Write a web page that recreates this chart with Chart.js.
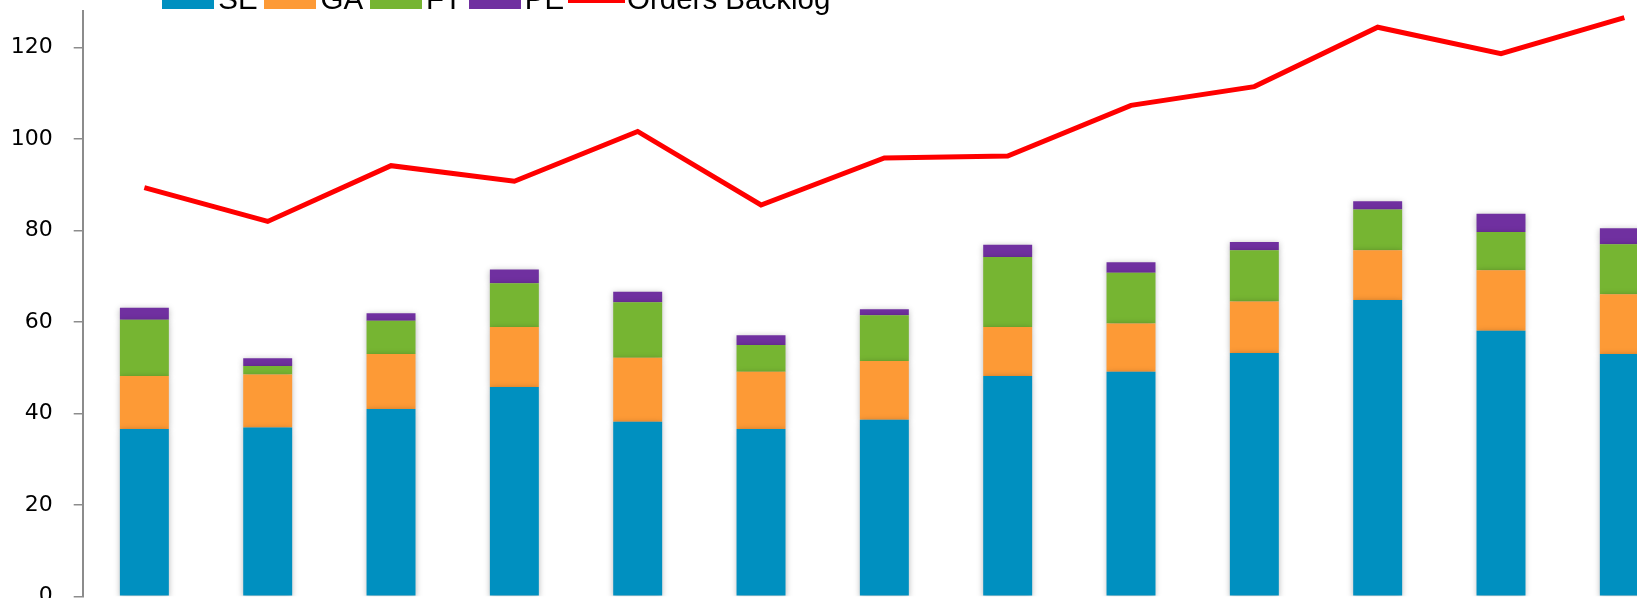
<!DOCTYPE html>
<html>
<head>
<meta charset="utf-8">
<script src="https://cdn.jsdelivr.net/npm/chart.js@4.4.1/dist/chart.umd.min.js"></script>
<style>
  html, body { margin: 0; padding: 0; overflow: hidden; background: #fff; }
  #wrap { position: absolute; left: 0; top: -50px; }
</style>
</head>
<body>
<div id="wrap">
  <canvas id="chart" width="1700" height="700"></canvas>
</div>
<script>
// periods (axis labels fall below the visible area)
const periods = ['1', '2', '3', '4', '5', '6', '7', '8', '9', '10', '11', '12', '13'];

const seValues = [36.6, 36.9, 41.0, 45.8, 38.2, 36.6, 38.6, 48.2, 49.1, 53.2, 64.8, 58.1, 53.0];
const gaValues = [11.6, 11.6, 12.0, 13.1, 14.0, 12.5, 12.9, 10.7, 10.6, 11.3, 10.9, 13.2, 13.1];
const ftValues = [12.3, 1.9, 7.3, 9.6, 12.1, 5.9, 10.0, 15.3, 11.1, 11.2, 8.9, 8.4, 10.9];
const peValues = [2.6, 1.7, 1.6, 3.0, 2.3, 2.1, 1.3, 2.7, 2.3, 1.8, 1.8, 4.0, 3.5];
const backlogValues = [89.4, 82.0, 94.2, 90.8, 101.7, 85.6, 95.9, 96.3, 107.4, 111.5, 124.5, 118.7, 126.6];

const yTickStep = 20;
const yMax = 128.15;

// legend swatches
function swatch(color, w, h) {
  const c = document.createElement('canvas');
  c.width = w;
  c.height = h;
  const g = c.getContext('2d');
  g.fillStyle = color;
  g.fillRect(0, 0, w, h);
  return c;
}

// put the legend where it sits in the picture
const legendPlacer = {
  id: 'legendPlacer',
  afterLayout(chart) {
    const lg = chart.legend;
    const pad = lg.options.labels.padding;
    const h = lg.height;
    lg.left = 172.5 - pad;
    lg.top = 50.5 - pad - lg.options.labels.font.size / 2;
    lg.bottom = lg.top + h;
  }
};

// soft shadow under the bars
const barShadow = {
  id: 'barShadow',
  beforeDatasetDraw(chart, args) {
    if (args.meta.type !== 'bar') return;
    const ctx = chart.ctx;
    ctx.save();
    ctx.shadowColor = 'rgba(0,0,0,0.28)';
    ctx.shadowBlur = 6;
    ctx.shadowOffsetX = 0;
    ctx.shadowOffsetY = 1;
  },
  afterDatasetDraw(chart, args) {
    if (args.meta.type !== 'bar') return;
    chart.ctx.restore();
  }
};

const bar = (label, data, color) => ({
  type: 'bar',
  label: label,
  data: data,
  backgroundColor: color,
  borderWidth: 0,
  stack: 'mix',
  order: 1,
  barPercentage: 0.397,
  categoryPercentage: 1
});

new Chart(document.getElementById('chart'), {
  data: {
    labels: periods,
    datasets: [
      bar('SE', seValues, '#0090c0'),
      bar('GA', gaValues, '#fd9a36'),
      bar('FT', ftValues, '#76b532'),
      bar('PE', peValues, '#7030a0'),
      {
        type: 'line',
        label: 'Orders Backlog',
        data: backlogValues,
        borderColor: '#ff0000',
        backgroundColor: '#ff0000',
        borderWidth: 5,
        pointRadius: 0,
        tension: 0,
        fill: false,
        stack: 'line',
        order: 0
      }
    ]
  },
  options: {
    responsive: false,
    animation: false,
    layout: { padding: { left: 12.7, right: 14, top: 3.9, bottom: 13.7 } },
    plugins: {
      tooltip: { enabled: false },
      legend: {
        position: 'top',
        align: 'start',
        labels: {
          usePointStyle: true,
          pointStyleWidth: 31,
          padding: 17.1,
          color: '#000',
          font: { family: 'Liberation Sans', size: 29.5 },
          generateLabels: (chart) => chart.data.datasets.map((ds, i) => ({
            text: ds.label,
            fillStyle: ds.backgroundColor,
            strokeStyle: ds.backgroundColor,
            lineWidth: 0,
            pointStyle: ds.type === 'line' ? swatch(ds.borderColor, 57, 5) : swatch(ds.backgroundColor, 52, 17),
            hidden: false,
            datasetIndex: i
          }))
        }
      }
    },
    scales: {
      x: {
        stacked: true,
        offset: true,
        grid: { display: false },
        border: { display: false },
        ticks: { color: '#000', font: { family: 'DejaVu Sans', size: 21 } },
        afterFit: (s) => { s.height = 40; }
      },
      y: {
        stacked: true,
        min: 0,
        max: yMax,
        grid: { display: true, drawOnChartArea: false, drawTicks: true, tickLength: 9, color: '#8c8c8c', lineWidth: 1.5 },
        border: { display: true, color: '#8c8c8c', width: 2 },
        ticks: {
          stepSize: yTickStep,
          includeBounds: false,
          padding: 21,
          color: '#000',
          font: { family: 'DejaVu Sans', size: 22 }
        },
        afterFit: (s) => { s.width = 70; }
      }
    }
  },
  plugins: [legendPlacer, barShadow]
});
</script>
</body>
</html>
